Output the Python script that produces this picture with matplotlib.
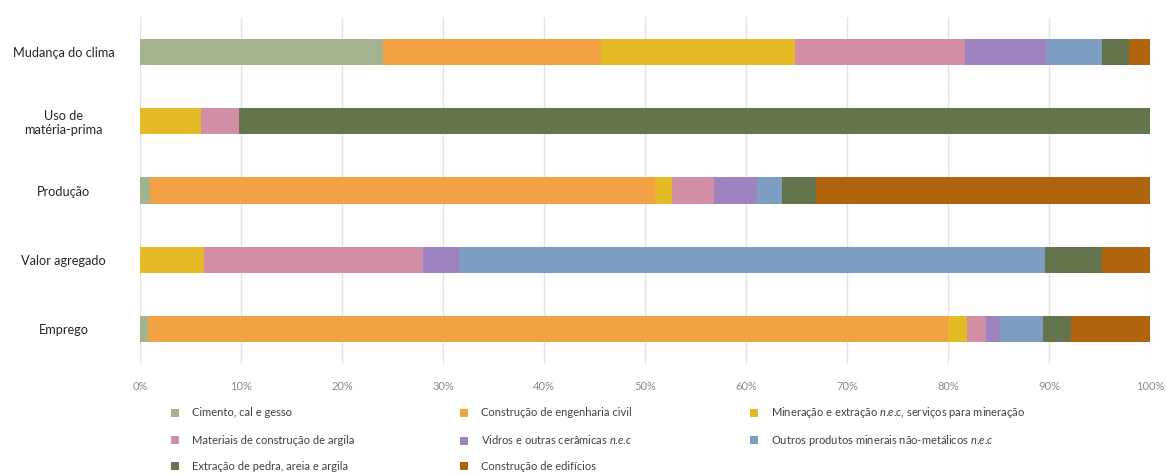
import matplotlib
matplotlib.use("Agg")
import matplotlib.pyplot as plt
from matplotlib.patches import Patch
import numpy as np

plt.rcParams['font.family'] = ['Lato', 'DejaVu Sans']
plt.rcParams['mathtext.fontset'] = 'custom'
plt.rcParams['mathtext.it'] = 'Lato:italic'
plt.rcParams['mathtext.rm'] = 'Lato'

categorias = ['Emprego', 'Valor agregado', 'Produção', 'Uso de\nmatéria-prima', 'Mudança do clima']

# shares in % (order: Emprego, Valor agregado, Produção, Uso, Mudança)
cimento    = [0.8, 0.0, 1.0, 0.0, 24.1]
civil      = [79.2, 0.0, 50.0, 0.0, 21.5]
mineracao  = [1.9, 6.3, 1.7, 6.0, 19.3]
argila     = [1.9, 21.7, 4.1, 3.8, 16.8]
vidros     = [1.3, 3.6, 4.3, 0.0, 8.1]
outros     = [4.3, 58.0, 2.5, 0.0, 5.4]
extracao   = [2.8, 5.6, 3.3, 90.2, 2.7]
edificios  = [7.8, 4.8, 33.1, 0.0, 2.1]

series = [cimento, civil, mineracao, argila, vidros, outros, extracao, edificios]
nec = r'$\it{n}$.$\it{e}$.$\it{c}$'
nomes = ['Cimento, cal e gesso',
         'Construção de engenharia civil',
         'Mineração e extração ' + nec + ', serviços para mineração',
         'Materiais de construção de argila',
         'Vidros e outras cerâmicas ' + nec,
         'Outros produtos minerais não-metálicos ' + nec,
         'Extração de pedra, areia e argila',
         'Construção de edifícios']
cores = ['#A3B38F', '#F2A245', '#E5BA27', '#D18EA4', '#9D84C0', '#7E9DC3', '#64754D', '#B0640D']

fig = plt.figure(figsize=(11.67, 4.75), dpi=100)
ax = fig.add_axes([140/1167, 1-364/475, 1010/1167, 347/475])

y = np.arange(len(categorias))
left = np.zeros(len(categorias))
for vals, c in zip(series, cores):
    vals = np.array(vals)
    ax.barh(y, vals, left=left, height=0.375, color=c, linewidth=0, zorder=3)
    left += vals

ax.set_xlim(0, 100)
ax.set_ylim(-0.5, 4.5)
ax.set_xticks(np.arange(0, 101, 10))
ax.set_xticklabels([f'{v}%' for v in range(0, 101, 10)])
ax.set_yticks(y)
ax.set_yticklabels(categorias, ha='center')
ax.tick_params(axis='y', length=0, pad=55, labelsize=9.2, labelcolor='#262626')
ax.tick_params(axis='x', length=0, pad=12, labelsize=8, labelcolor='#8a8a8a')
for s in ax.spines.values():
    s.set_visible(False)
ax.grid(axis='x', color='#e3e3e3', linewidth=1, zorder=0)

# legend: 3 columns, row-wise order like the original, one entry each so rows line up
col_x = [171, 460, 750]
row_y = [413, 440, 466]
for i, (nome, c) in enumerate(zip(nomes, cores)):
    r, k = divmod(i, 3)
    fig.legend([Patch(facecolor=c, edgecolor='none')], [nome], loc='center left',
               bbox_to_anchor=(col_x[k]/1167, 1-row_y[r]/475),
               frameon=False, fontsize=8, handlelength=0.7, handleheight=0.7,
               handletextpad=1.2, borderaxespad=0, borderpad=0,
               labelcolor='#404040')

fig.savefig('out.png', dpi=100)
